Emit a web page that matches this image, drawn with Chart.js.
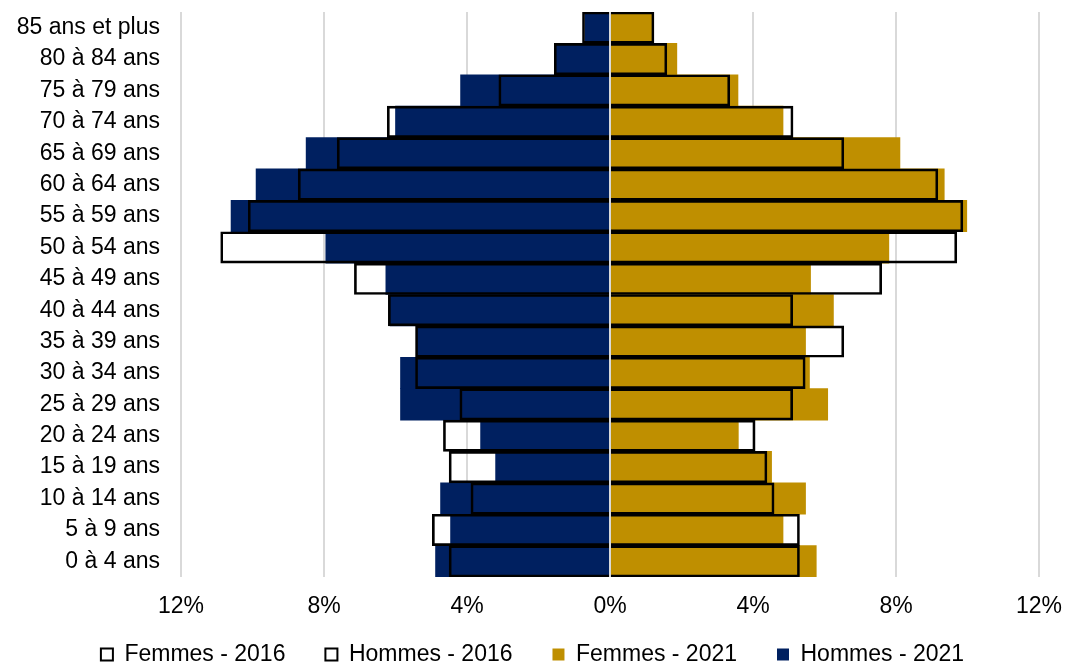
<!DOCTYPE html>
<html>
<head>
<meta charset="utf-8">
<script src="https://cdn.jsdelivr.net/npm/chart.js@4"></script>
<style>
  body { margin: 0; background: #fff; }
  #wrap { width: 1065px; height: 667px; }
</style>
</head>
<body>
<div id="wrap"><canvas id="pyramid"></canvas></div>
<script>
// Age groups, top to bottom
const ages = ['85 ans et plus','80 à 84 ans','75 à 79 ans','70 à 74 ans','65 à 69 ans','60 à 64 ans',
  '55 à 59 ans','50 à 54 ans','45 à 49 ans','40 à 44 ans','35 à 39 ans','30 à 34 ans',
  '25 à 29 ans','20 à 24 ans','15 à 19 ans','10 à 14 ans','5 à 9 ans','0 à 4 ans'];

// Share of population (%)
const femmes2016 = [1.23,1.59,3.35,5.12,6.54,9.17,9.87,9.70,7.60,5.11,6.54,5.46,5.11,4.06,4.39,4.59,5.30,5.30];
const hommes2016 = [0.77,1.56,3.11,6.23,7.63,8.72,10.12,10.89,7.15,6.20,5.44,5.44,4.20,4.66,4.50,3.89,4.97,4.50];
const femmes2021 = [1.20,1.87,3.58,4.84,8.11,9.35,9.98,7.80,5.61,6.25,5.47,5.58,6.09,3.59,4.52,5.47,4.84,5.77];
const hommes2021 = [0.70,1.52,4.18,6.00,8.50,9.90,10.60,7.95,6.27,6.15,5.42,5.86,5.86,3.62,3.20,4.74,4.46,4.88];

const xTicks = [-12,-8,-4,0,4,8,12];

Chart.defaults.font.family = '"Liberation Sans", Arial, sans-serif';
Chart.defaults.font.size = 23;
Chart.defaults.color = '#000';

// zero line on top of the bars
const zeroLine = {
  id: 'zeroLine',
  afterDatasetsDraw(chart) {
    const x = chart.scales.x.getPixelForValue(0);
    const ctx = chart.ctx;
    ctx.save();
    ctx.strokeStyle = '#d9d9d9';
    ctx.lineWidth = 2;
    ctx.beginPath();
    ctx.moveTo(x, chart.chartArea.top);
    ctx.lineTo(x, chart.chartArea.bottom);
    ctx.stroke();
    ctx.restore();
  }
};

const neg = arr => arr.map(v => -v);

new Chart(document.getElementById('pyramid'), {
  type: 'bar',
  data: {
    labels: ages,
    datasets: [
      { label: 'Femmes - 2016', data: femmes2016, backgroundColor: 'rgba(0,0,0,0)', borderColor: '#000', borderWidth: 2 },
      { label: 'Hommes - 2016', data: neg(hommes2016), backgroundColor: 'rgba(0,0,0,0)', borderColor: '#000', borderWidth: 2 },
      { label: 'Femmes - 2021', data: femmes2021, backgroundColor: '#bf8f00', borderWidth: 0 },
      { label: 'Hommes - 2021', data: neg(hommes2021), backgroundColor: '#002060', borderWidth: 0 }
    ]
  },
  options: {
    indexAxis: 'y',
    responsive: true,
    maintainAspectRatio: false,
    animation: false,
    grouped: false,
    barPercentage: 1,
    categoryPercentage: 1,
    layout: { padding: { top: 12, right: 0, bottom: 0, left: 0 } },
    scales: {
      x: {
        min: -12,
        max: 12,
        afterBuildTicks: s => { s.ticks = xTicks.map(v => ({ value: v })); },
        // room on the right for the last tick label
        afterFit: s => { s.height = 58; s.paddingLeft = 0; s.paddingRight = 26; },
        ticks: { padding: 16, callback: v => Math.abs(v) + '%' },
        grid: { color: '#d9d9d9', lineWidth: 2, drawTicks: false },
        border: { display: false }
      },
      y: {
        afterFit: s => { s.width = 181; s.paddingTop = 0; s.paddingBottom = 0; },
        ticks: { padding: 21 },
        grid: { display: false, drawTicks: false },
        border: { display: false }
      }
    },
    plugins: {
      tooltip: { enabled: false },
      legend: {
        position: 'bottom',
        maxHeight: 32,
        labels: {
          boxWidth: 12,
          boxHeight: 12,
          padding: 8,
          // extra room between legend entries
          generateLabels: chart => Chart.defaults.plugins.legend.labels.generateLabels(chart)
            .map((l, i, all) => ({ ...l, text: i < all.length - 1 ? l.text + '     ' : l.text }))
        }
      }
    }
  },
  plugins: [zeroLine]
});
</script>
</body>
</html>
